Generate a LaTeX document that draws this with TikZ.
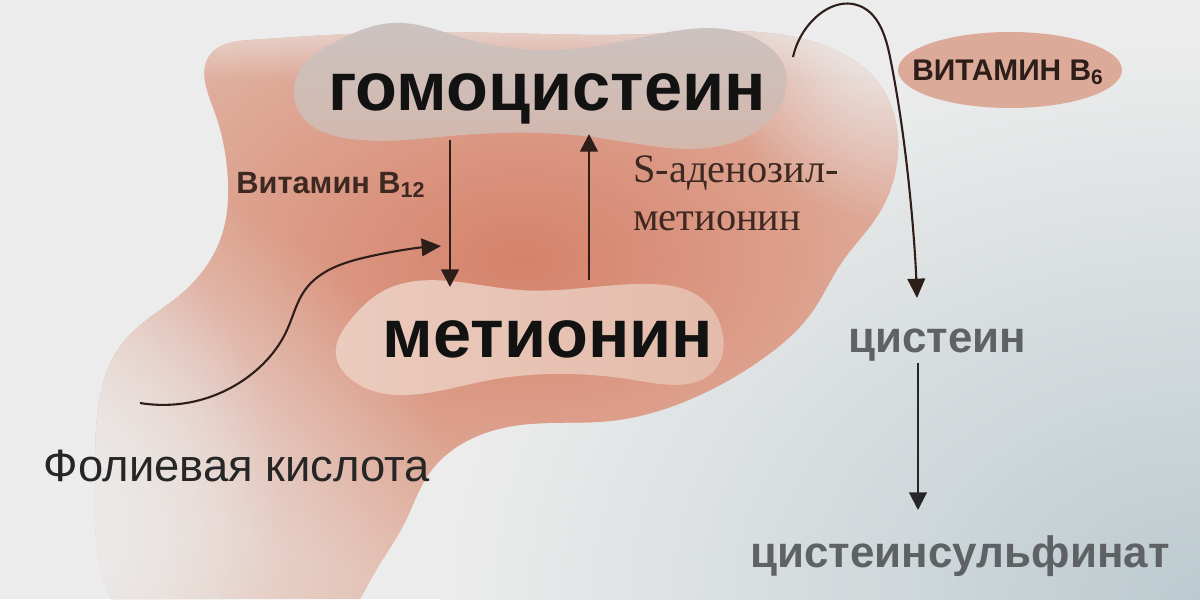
\documentclass[tikz,border=0pt]{standalone}
\usepackage{fontspec}
\setmainfont{Liberation Sans}
\newfontfamily\serifru{Liberation Serif}
\usetikzlibrary{
  hobby,
  fadings,
  arrows.meta,
}

\definecolor{bgpaper}{HTML}{ECECEC}
\definecolor{bluefog}{HTML}{BCCACF}
\definecolor{blobpink}{HTML}{E2B9AA}
\definecolor{blobcore}{HTML}{D6826A}
\definecolor{homogray}{HTML}{CBC3C1}
\definecolor{homolow}{HTML}{D4B6AB}
\definecolor{metcream}{HTML}{E4BBAA}
\definecolor{metlight}{HTML}{EACBBD}
\definecolor{vitpink}{HTML}{DCAA98}
\definecolor{inkbrown}{HTML}{2E1E1A}
\definecolor{labelbrown}{HTML}{3D2822}
\definecolor{cysgray}{HTML}{5E6264}

\tikzfading[name=fadedown, top color=transparent!0, bottom color=transparent!100]
\tikzfading[name=softspot, inner color=transparent!0, outer color=transparent!100]

\tikzset{
  arr/.style={line width=1.5pt, draw=inkbrown, -{Triangle[width=10pt,length=10pt]}},
  curvearr/.style={line width=1.2pt, draw=inkbrown, -{Triangle[width=10pt,length=11pt]}},
  cysarr/.style={line width=1.2pt, draw=black!85, -{Triangle[width=10pt,length=10pt]}},
  bigname/.style={font=\fontsize{39}{42}\selectfont\bfseries, text=black!93, inner sep=0pt},
  vitname/.style={font=\fontsize{17.5}{20}\selectfont\bfseries, text=labelbrown, inner sep=0pt},
  samname/.style={font=\serifru\fontsize{23}{27}\selectfont, text=labelbrown, align=left, inner sep=0pt},
  cysname/.style={font=\fontsize{25}{28}\selectfont\bfseries, text=cysgray, inner sep=0pt},
  folname/.style={font=\fontsize{25.8}{28}\selectfont, text=black!85, inner sep=0pt},
  b6name/.style={font=\fontsize{17}{20}\selectfont\bfseries, text=inkbrown, inner sep=0pt},
}

\begin{document}
\begin{tikzpicture}[x=0.02cm,y=-0.02cm]
\useasboundingbox (0,0) rectangle (1200,599);

% paper and the blue fog on the right
\fill[bgpaper] (0,0) rectangle (1200,599);
\shade[inner color=bluefog, outer color=bgpaper] (1200,600) ellipse [x radius=760, y radius=560];

% salmon blob
\begin{scope}
\clip[use Hobby shortcut, closed=true] (210,55) .. (250,40) .. (420,32) .. (650,34) .. (820,44)
  .. (882,88) .. (898,150) .. (878,215) .. (842,262) .. (812,312) .. (765,357)
  .. (700,395) .. (610,421) .. (520,425) .. (465,442) .. (428,475) .. (405,522)
  .. (375,572) .. (350,615) .. (120,615) .. (95,470) .. (125,340) .. (180,295)
  .. (222,235) .. (228,180) .. (214,110);
\fill[blobpink] (0,0) rectangle (1200,599);
\shade[inner color=blobcore, outer color=blobpink] (520,260) ellipse [x radius=520, y radius=330];
\fill[bgpaper, path fading=softspot] (40,540) ellipse [x radius=420, y radius=380];
\fill[bgpaper, path fading=softspot] (20,500) ellipse [x radius=260, y radius=300];
\fill[bgpaper, fill opacity=0.7, path fading=fadedown] (150,20) rectangle (900,80);
\fill[bgpaper, path fading=softspot] (880,30) ellipse [x radius=170, y radius=190];
\end{scope}

% patches behind the two main names
\shade[top color=homogray, bottom color=homolow, use Hobby shortcut, closed=true]
  (300,70) .. (335,42) .. (392,23) .. (470,40) .. (620,42) .. (765,44) .. (783,64)
  .. (778,110) .. (752,134) .. (600,138) .. (450,136) .. (345,138) .. (299,112);
\shade[left color=metlight, right color=metcream, use Hobby shortcut, closed=true]
  (352,318) .. (378,294) .. (520,290) .. (650,284) .. (700,297) .. (723,335)
  .. (717,367) .. (640,381) .. (480,382) .. (352,380) .. (336,356);
\fill[vitpink] (1010,70) ellipse [x radius=112, y radius=38];

% names
\node[bigname, anchor=base] (homo) at (547,110) {гомоцистеин};
\node[bigname, anchor=base] (met) at (548,357) {метионин};
\node[vitname, anchor=base] (b12) at (331,193) {Витамин B\textsubscript{12}};
\node[samname, anchor=base west] (sam) at (633,230) {S-аденозил-\\метионин};
\node[b6name, anchor=base] (b6) at (1008,80) {ВИТАМИН B\textsubscript{6}};
\node[cysname, anchor=base] (cys) at (937,352) {цистеин};
\node[cysname, anchor=base] (cyss) at (960,567) {цистеинсульфинат};
\node[folname, anchor=base] (folic) at (237,481) {Фолиевая кислота};

% arrow ends
\coordinate (b12from) at (450,140);
\coordinate (b12to) at (450,287);
\coordinate (samfrom) at (589,280);
\coordinate (samto) at (589,134);
\coordinate (folfrom) at (140,403);
\coordinate (folto) at (441,246);
\coordinate (b6from) at (793,57);
\coordinate (b6to) at (917,298);
\coordinate (cysfrom) at (918,363);
\coordinate (cysto) at (918,510);

% arrows
\draw[arr] (b12from) -- (b12to);
\draw[arr] (samfrom) -- (samto);
\draw[curvearr, use Hobby shortcut] (folfrom) .. (253,373) .. (287,330) .. (305,290) .. (367,257) .. (folto);
\draw[curvearr, use Hobby shortcut] (b6from) .. (813,20) .. (857,5) .. (890,57) .. (907,167) .. (b6to);
\draw[cysarr] (cysfrom) -- (cysto);
\end{tikzpicture}
\end{document}
